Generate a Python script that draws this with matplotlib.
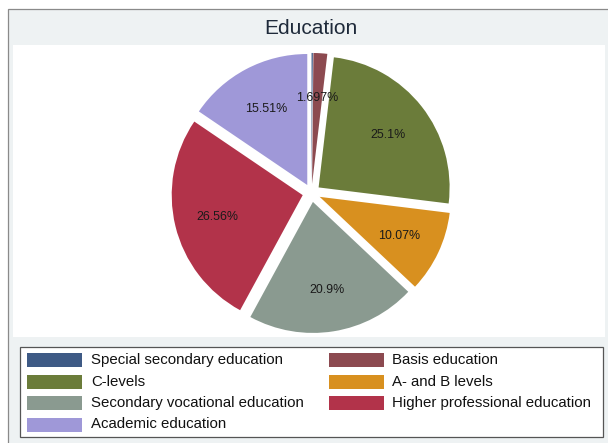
import matplotlib
matplotlib.use("Agg")
import matplotlib.pyplot as plt
from matplotlib.patches import Rectangle

plt.rcParams['font.family'] = ['Liberation Sans', 'DejaVu Sans']

# Education shares (percent), clockwise from 12 o'clock
categories = ["Special secondary education", "Basis education", "C-levels",
              "A- and B levels", "Secondary vocational education",
              "Higher professional education", "Academic education"]
shares = [0.163, 1.697, 25.1, 10.07, 20.9, 26.56, 15.51]
pct_labels = ["", "1.697%", "25.1%", "10.07%", "20.9%", "26.56%", "15.51%"]
colors = ["#3e5a85", "#8c4a50", "#6b7c3a", "#d8901f", "#8a9a90", "#b2334a", "#9f98d8"]

W, H = 608, 443
fig = plt.figure(figsize=(W / 100, H / 100), dpi=100)
fig.patch.set_facecolor("white")


def box(x0, y0, x1, y1):
    """Pixel box (top-left origin) -> figure-fraction rectangle args."""
    return (x0 / W, 1 - y1 / H), (x1 - x0) / W, (y1 - y0) / H


# graph region: light grey with a thin border
xy, w, h = box(8, 9, 612, 450)
fig.add_artist(Rectangle(xy, w, h, transform=fig.transFigure, zorder=-3,
                         facecolor="#eef2f3", edgecolor="#8a8a8a", linewidth=0.9))
# white plot region
xy, w, h = box(13, 45, 605, 337)
fig.add_artist(Rectangle(xy, w, h, transform=fig.transFigure, zorder=-2,
                         facecolor="white", edgecolor="none"))

fig.text(311 / W, 1 - 28 / H, "Education", ha="center", va="center",
         fontsize=15, color="#1e2a3a")

# pie axes, square, centred on the plot region
cx, cy, half = 311.5, 193.0, 150
ax = fig.add_axes([(cx - half) / W, 1 - (cy + half) / H, 2 * half / W, 2 * half / H])
ax.set_zorder(2)
ax.patch.set_visible(False)

wedges, texts = ax.pie(shares, colors=colors, startangle=90, counterclock=False,
                       explode=[0.069] * len(shares), labels=pct_labels,
                       labeldistance=0.67, radius=1.0,
                       wedgeprops=dict(linewidth=0))
for t in texts:
    t.set_ha("center")
    t.set_va("center_baseline")
    t.set_fontsize(8.9)
    t.set_color("#1a1a1a")

# pie() resets the limits, so fix the scale afterwards (131 px per radius)
ax.set_xlim(-half / 131, half / 131)
ax.set_ylim(-half / 131, half / 131)
ax.set_aspect("equal")
ax.axis("off")

# legend box
xy, w, h = box(20, 347, 603, 437)
fig.add_artist(Rectangle(xy, w, h, transform=fig.transFigure, zorder=-1,
                         facecolor="white", edgecolor="#555555", linewidth=0.9))

rows = [360, 381.5, 403, 424.5]
cols = [(27, 82, 91), (329, 384, 392)]
for k, idx in enumerate(range(len(categories))):
    r, c = divmod(k, 2)
    px0, px1, tx = cols[c]
    y = rows[r]
    xy, w, h = box(px0, y - 7, px1, y + 7)
    fig.add_artist(Rectangle(xy, w, h, transform=fig.transFigure, zorder=3,
                             facecolor=colors[idx], edgecolor="none"))
    fig.text(tx / W, 1 - y / H, categories[idx], ha="left", va="center",
             fontsize=10.85, color="#111111")

fig.savefig("out.png", dpi=100)
